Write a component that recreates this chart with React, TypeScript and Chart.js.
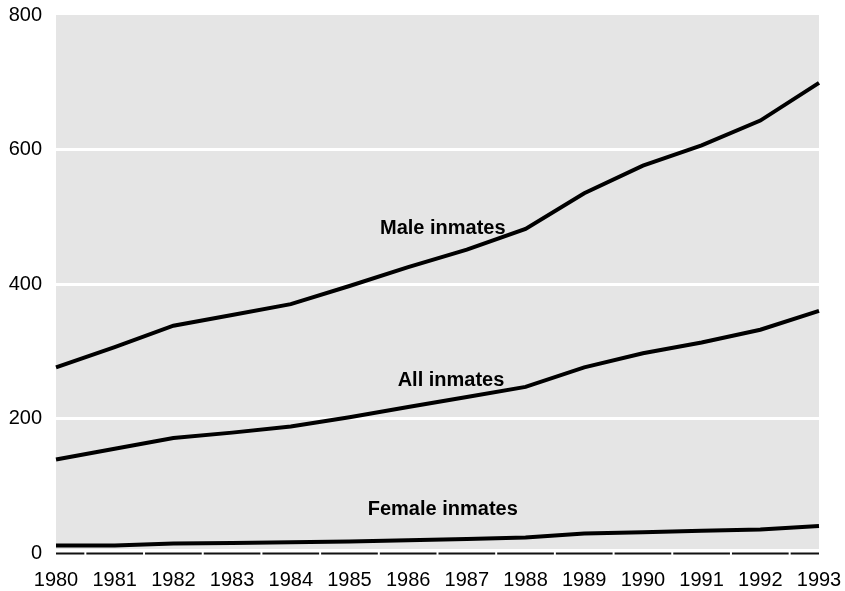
import React, { useEffect, useRef } from "react";
import { Chart, registerables } from "chart.js";

Chart.register(...registerables);

const years = ["1980","1981","1982","1983","1984","1985","1986","1987","1988","1989","1990","1991","1992","1993"];
const maleInmates = [276, 306, 338, 354, 370, 397, 425, 451, 482, 535, 576, 606, 643, 699];
const allInmates = [139, 155, 171, 179, 188, 202, 217, 232, 247, 276, 297, 313, 332, 360];
const femaleInmates = [11, 11, 14, 15, 16, 17, 19, 21, 23, 29, 31, 33, 35, 40];
const yTicks = [0, 200, 400, 600, 800];
const seriesNames = ["Male inmates", "All inmates", "Female inmates"];
const nameAnchorIndex = [6.59, 6.73, 6.59];
const nameAnchorValue = [483, 256, 64];

const FONT = "'Liberation Sans', Arial, Helvetica, sans-serif";

const decorPlugin = {
  id: "decor",
  beforeDraw(chart: any) {
    const { ctx, chartArea } = chart;
    const y = chart.scales.y;
    const bottom = y.getPixelForValue(0) - 4;
    ctx.save();
    ctx.fillStyle = "#e5e5e5";
    ctx.fillRect(chartArea.left, chartArea.top, chartArea.right - chartArea.left, bottom - chartArea.top);
    ctx.restore();
  },
  afterDatasetsDraw(chart: any) {
    const { ctx, chartArea } = chart;
    const x = chart.scales.x;
    const y = chart.scales.y;
    const y0 = Math.round(y.getPixelForValue(0)) + 0.5;
    ctx.save();
    ctx.strokeStyle = "#111";
    ctx.lineWidth = 2;
    ctx.beginPath();
    ctx.moveTo(chartArea.left, y0);
    ctx.lineTo(chartArea.right, y0);
    ctx.stroke();
    ctx.fillStyle = "#ffffff";
    for (let i = 0; i < years.length - 1; i++) {
      const xm = (x.getPixelForValue(i) + x.getPixelForValue(i + 1)) / 2;
      ctx.fillRect(xm - 1, y0 - 2, 2, 4);
    }
    ctx.fillStyle = "#000";
    ctx.font = `bold 20px ${FONT}`;
    ctx.textAlign = "center";
    ctx.textBaseline = "middle";
    seriesNames.forEach((n, i) => {
      const i0 = Math.floor(nameAnchorIndex[i]);
      const f = nameAnchorIndex[i] - i0;
      const px = x.getPixelForValue(i0) * (1 - f) + x.getPixelForValue(i0 + 1) * f;
      const py = y.getPixelForValue(nameAnchorValue[i]);
      ctx.fillText(n, px, py);
    });
    ctx.restore();
  },
};

export default function App() {
  const ref = useRef<HTMLCanvasElement | null>(null);
  useEffect(() => {
    if (!ref.current) return;
    const mk = (data: number[]) => ({
      data,
      borderColor: "#000",
      borderWidth: 4,
      pointRadius: 0,
      tension: 0,
      fill: false,
    });
    const chart = new Chart(ref.current, {
      type: "line",
      data: {
        labels: years,
        datasets: [mk(maleInmates), mk(allInmates), mk(femaleInmates)],
      },
      options: {
        responsive: false,
        animation: false,
        layout: { padding: { top: 15, right: 26, bottom: 0, left: 0 } },
        plugins: { legend: { display: false }, tooltip: { enabled: false } },
        scales: {
          x: {
            offset: false,
            grid: { display: false, drawTicks: false },
            border: { display: false },
            ticks: {
              color: "#000",
              font: { family: FONT, size: 20 },
              padding: 15,
              maxRotation: 0,
              autoSkip: false,
            },
            afterFit(scale: any) {
              scale.height = 38;
              scale.paddingLeft = 0;
              scale.paddingRight = 0;
            },
          },
          y: {
            min: 0,
            max: 800,
            afterBuildTicks(scale: any) {
              scale.ticks = yTicks.map((v) => ({ value: v }));
            },
            grid: {
              drawTicks: false,
              color: (c: any) =>
                c.tick && c.tick.value > 0 && c.tick.value < 800 ? "#ffffff" : "rgba(0,0,0,0)",
              lineWidth: 3,
            },
            border: { display: false },
            ticks: {
              color: "#000",
              font: { family: FONT, size: 20 },
              padding: 14,
            },
            afterFit(scale: any) {
              scale.width = 56;
              scale.paddingTop = 0;
              scale.paddingBottom = 0;
            },
          },
        },
      },
      plugins: [decorPlugin],
    });
    return () => chart.destroy();
  }, []);
  return (
    <div style={{ position: "fixed", left: 0, top: 0, width: 845, height: 591, background: "#fff" }}>
      <canvas ref={ref} width={845} height={591} style={{ display: "block" }} />
    </div>
  );
}
